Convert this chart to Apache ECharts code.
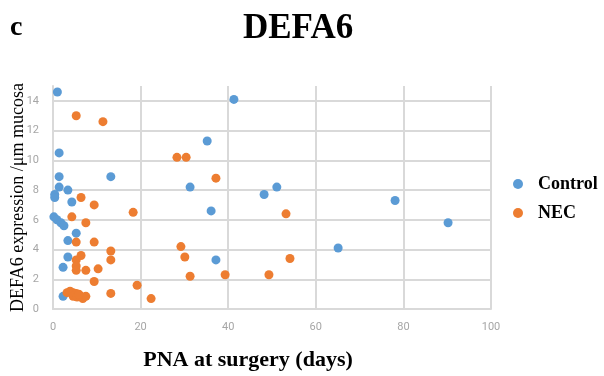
<!DOCTYPE html>
<html>
<head>
<meta charset="utf-8">
<script src="https://cdn.jsdelivr.net/npm/echarts@6/dist/echarts.min.js"></script>
<style>
  html, body { margin: 0; padding: 0; background: #fff; }
  #chart { width: 604px; height: 376px; }
</style>
</head>
<body>
<div id="chart"></div>
<script>
// PNA (days) and DEFA6 expression
const controlPoints = [
  [1, 14.6], [41.3, 14.1], [1.4, 10.5], [35.2, 11.3], [13.2, 8.9], [1.4, 8.9],
  [1.4, 8.2], [3.4, 8.0], [0.4, 7.7], [0.4, 7.5], [4.3, 7.2], [31.3, 8.2],
  [36.1, 6.6], [37.2, 3.3], [48.2, 7.7], [51.1, 8.2], [78.1, 7.3], [90.2, 5.8],
  [65.1, 4.1], [0.2, 6.2], [0.9, 6.0], [1.8, 5.8], [2.5, 5.6], [5.3, 5.1],
  [3.4, 4.6], [3.4, 3.5], [2.3, 2.8], [2.3, 0.85]
];
const necPoints = [
  [5.3, 13.0], [11.4, 12.6], [28.3, 10.2], [30.4, 10.2], [37.2, 8.8],
  [6.4, 7.5], [9.4, 7.0], [18.3, 6.5], [53.2, 6.4], [4.3, 6.2], [7.5, 5.8],
  [5.3, 4.5], [9.4, 4.5], [29.2, 4.2], [13.2, 3.9], [6.4, 3.6], [30.1, 3.5],
  [54.1, 3.4], [5.3, 3.3], [13.2, 3.3], [5.3, 2.9], [10.3, 2.7], [5.3, 2.6],
  [7.5, 2.6], [31.3, 2.2], [39.3, 2.3], [49.3, 2.3], [9.4, 1.85], [19.2, 1.6],
  [13.2, 1.05], [22.4, 0.7],
  [3.2, 1.1], [3.9, 1.2], [4.6, 1.1], [5.3, 1.05], [4.6, 0.85], [5.5, 0.8],
  [6.4, 0.85], [6.8, 0.7], [7.5, 0.85], [5.9, 1.0]
];
const xTicks = [0, 20, 40, 60, 80, 100];
const yTicks = [0, 2, 4, 6, 8, 10, 12, 14];

const serif = "'Liberation Serif', 'DejaVu Serif', serif";
const gridColor = "#d9d9d9";
const tickColor = "#a6a6a6";

var myChart = echarts.init(document.getElementById("chart"));
myChart.setOption({
  animation: false,
  graphic: [
    {
      type: "text", left: 10, top: 14,
      style: { text: "c", font: "bold 28px " + serif, fill: "#000" }
    }
  ],
  title: {
    text: "DEFA6",
    left: 238, top: 6,
    textStyle: { fontFamily: serif, fontWeight: "bold", fontSize: 35, color: "#000" }
  },
  grid: { left: 53, right: 113, top: 86, bottom: 67, outerBoundsMode: "none" },
  legend: {
    orient: "vertical",
    left: 508, top: 170,
    icon: "circle",
    itemWidth: 10, itemHeight: 10, itemGap: 11,
    textStyle: { fontFamily: serif, fontWeight: "bold", fontSize: 18, color: "#000", padding: [0, 0, 0, 10] },
    data: ["Control", "NEC"]
  },
  xAxis: {
    type: "value",
    min: xTicks[0], max: xTicks[xTicks.length - 1], interval: 20,
    name: "PNA at surgery (days)",
    nameLocation: "middle", nameGap: 40, nameMoveOverlap: false,
    nameTextStyle: { fontFamily: serif, fontWeight: "bold", fontSize: 22, color: "#000", padding: [0, 48, 0, 0] },
    axisLine: { lineStyle: { color: gridColor, width: 2 } },
    axisTick: { show: false },
    axisLabel: { color: tickColor, fontSize: 11, margin: 13, fontFamily: "Roboto" },
    splitLine: { lineStyle: { color: gridColor, width: 2 } }
  },
  yAxis: {
    type: "value",
    min: yTicks[0], max: 15, interval: 2,
    name: "DEFA6 expression /\u03bcm mucosa",
    nameLocation: "middle", nameGap: 26, nameMoveOverlap: false,
    nameTextStyle: { fontFamily: serif, fontSize: 18, color: "#000" },
    axisLine: { show: true, lineStyle: { color: gridColor, width: 2 } },
    axisTick: { show: false },
    axisLabel: { color: tickColor, fontSize: 11, margin: 14, showMaxLabel: false, fontFamily: "Roboto" },
    splitLine: { showMaxLine: false, lineStyle: { color: gridColor, width: 2 } }
  },
  series: [
    {
      name: "Control", type: "scatter", symbolSize: 9,
      itemStyle: { color: "#5b9bd5", opacity: 1 },
      data: controlPoints
    },
    {
      name: "NEC", type: "scatter", symbolSize: 9,
      itemStyle: { color: "#ed7d31", opacity: 1 },
      data: necPoints
    }
  ]
});
</script>
</body>
</html>
